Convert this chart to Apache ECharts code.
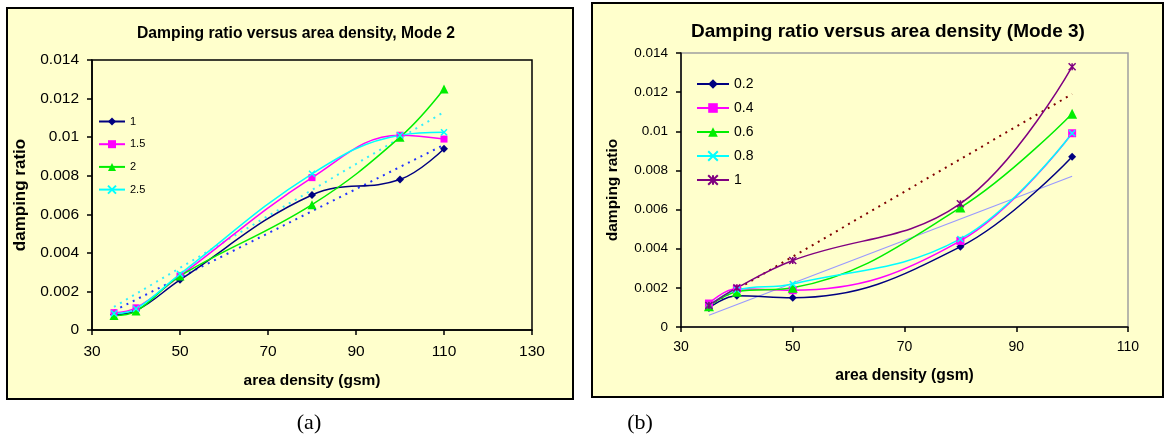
<!DOCTYPE html>
<html>
<head>
<meta charset="utf-8">
<script src="https://cdn.jsdelivr.net/npm/echarts@6/dist/echarts.min.js"></script>
<style>
html,body{margin:0;padding:0;background:#fff;width:1164px;height:441px;overflow:hidden;}
#ca{position:absolute;left:0;top:0;width:580px;height:441px;}
#cb{position:absolute;left:580px;top:0;width:584px;height:441px;}
</style>
</head>
<body>
<div id="ca"></div>
<div id="cb"></div>
<script>
// ---------- Chart (a): Mode 2 ----------
var titleA = 'Damping ratio versus area density, Mode 2';
var xA = [35, 40, 50, 80, 100, 110];
var namesA = ['1', '1.5', '2', '2.5'];
var a1  = [0.0008, 0.0010, 0.0026, 0.0070, 0.0078, 0.0094];
var a15 = [0.0009, 0.00115, 0.0028, 0.0079, 0.0101, 0.0099];
var a2  = [0.00075, 0.00098, 0.0028, 0.0065, 0.0100, 0.0125];
var a25 = [0.00086, 0.0011, 0.0029, 0.0081, 0.0101, 0.01025];
var trendAx = [35, 110];
var trendA1 = [0.0010, 0.0096];
var trendA25 = [0.0012, 0.0113];
var xTicksA = [30, 130, 20];
var yTicks = [0, 0.014, 0.002];

// ---------- Chart (b): Mode 3 ----------
var titleB = 'Damping ratio versus area density (Mode 3)';
var xB = [35, 40, 50, 80, 100];
var namesB = ['0.2', '0.4', '0.6', '0.8', '1'];
var b02 = [0.00097, 0.0016, 0.0015, 0.0041, 0.0087];
var b04 = [0.0012, 0.00195, 0.00188, 0.0044, 0.0099];
var b06 = [0.00106, 0.0018, 0.0020, 0.0061, 0.0109];
var b08 = [0.0011, 0.0019, 0.0022, 0.0045, 0.0099];
var b1  = [0.0011, 0.0020, 0.0034, 0.0063, 0.0133];
var trendBx = [35, 100];
var trendB1 = [0.0011, 0.0119];
var trendBlin = [0.0006, 0.0077];
var xTicksB = [30, 110, 20];

var captions = ['(a)', '(b)'];

var FONT = 'Liberation Sans, Arial, sans-serif';
function pairs(xs, ys) { return xs.map(function (x, i) { return [x, ys[i]]; }); }
function yFmt(v) { return v === 0 ? '0' : String(+v.toFixed(3)); }
var X_SYM = 'path://M0,0L10,10M10,0L0,10';
var STAR_SYM = 'path://M0,0L10,10M10,0L0,10M5,0L5,10';

function mkSeries(name, xs, ys, color, symbol, size, stroke) {
  var s = {
    name: name, type: 'line', data: pairs(xs, ys), smooth: 0.4,
    symbol: symbol, symbolSize: size, showSymbol: true,
    lineStyle: { color: color, width: 1.5 },
    itemStyle: { color: color },
    z: 3
  };
  if (stroke) { s.itemStyle.borderColor = color; s.itemStyle.borderWidth = 1.5; }
  return s;
}
function mkTrend(xs, ys, color, type, width) {
  return {
    name: '_t', type: 'line', data: pairs(xs, ys), symbol: 'none', silent: true,
    lineStyle: { color: color, width: width, type: type }, z: 2
  };
}

// ---- left chart ----
var chA = echarts.init(document.getElementById('ca'), null, { renderer: 'canvas' });
chA.setOption({
  animation: false,
  textStyle: { fontFamily: FONT },
  graphic: [
    { type: 'rect', z: -100, shape: { x: 7, y: 8, width: 566, height: 391 },
      style: { fill: '#FFFFCC', stroke: '#000', lineWidth: 2 } },
    { type: 'text', x: 309, y: 423, style: { text: captions[0], font: '22px "Liberation Serif", "Times New Roman", serif',
      fill: '#000', textAlign: 'center', textVerticalAlign: 'middle' } }
  ],
  title: { text: titleA, left: 291, textAlign: 'center', top: 21,
    textStyle: { fontFamily: FONT, fontSize: 15.7, fontWeight: 'bold', color: '#000' } },
  legend: {
    data: namesA, orient: 'vertical', left: 93, top: 111, itemWidth: 26, itemHeight: 10, itemGap: 11.7,
    textStyle: { fontFamily: FONT, fontSize: 11, color: '#000' }
  },
  grid: { left: 92, top: 60, width: 440, height: 270, show: true, borderColor: '#000', borderWidth: 1.5, backgroundColor: 'transparent' },
  xAxis: {
    type: 'value', min: xTicksA[0], max: xTicksA[1], interval: xTicksA[2],
    name: 'area density (gsm)', nameLocation: 'middle', nameGap: 43,
    nameTextStyle: { fontFamily: FONT, fontSize: 15.5, fontWeight: 'bold', color: '#000' },
    axisLine: { lineStyle: { color: '#000', width: 1.5 } },
    axisTick: { show: true, length: 5, lineStyle: { color: '#000', width: 1.5 } },
    axisLabel: { fontFamily: FONT, fontSize: 15.5, color: '#000', margin: 14 },
    splitLine: { show: false }
  },
  yAxis: {
    type: 'value', min: yTicks[0], max: yTicks[1], interval: yTicks[2],
    name: 'damping ratio', nameLocation: 'middle', nameRotate: 90, nameGap: 62,
    nameTextStyle: { fontFamily: FONT, fontSize: 17, fontWeight: 'bold', color: '#000' },
    axisLine: { show: true, lineStyle: { color: '#000', width: 1.5 } },
    axisTick: { show: true, length: 5, lineStyle: { color: '#000', width: 1.5 } },
    axisLabel: { fontFamily: FONT, fontSize: 15.5, color: '#000', margin: 13, formatter: yFmt },
    splitLine: { show: false }
  },
  series: [
    mkTrend(trendAx, trendA1, '#2233FF', [2, 5], 2),
    mkTrend(trendAx, trendA25, '#33EEFF', [2, 5], 2),
    mkSeries(namesA[0], xA, a1, '#000080', 'diamond', 8),
    mkSeries(namesA[1], xA, a15, '#FF00FF', 'rect', 7),
    mkSeries(namesA[2], xA, a2, '#00EE00', 'triangle', 9),
    mkSeries(namesA[3], xA, a25, '#00FFFF', X_SYM, 6, true)
  ]
});

// ---- right chart ----
var chB = echarts.init(document.getElementById('cb'), null, { renderer: 'canvas' });
chB.setOption({
  animation: false,
  textStyle: { fontFamily: FONT },
  graphic: [
    { type: 'rect', z: -100, shape: { x: 12, y: 3, width: 571, height: 394 },
      style: { fill: '#FFFFCC', stroke: '#000', lineWidth: 2 } },
    { type: 'text', x: 60, y: 423, style: { text: captions[1], font: '22px "Liberation Serif", "Times New Roman", serif',
      fill: '#000', textAlign: 'center', textVerticalAlign: 'middle' } }
  ],
  title: { text: titleB, left: 303, textAlign: 'center', top: 17,
    textStyle: { fontFamily: FONT, fontSize: 19, fontWeight: 'bold', color: '#000' } },
  legend: {
    data: namesB, orient: 'vertical', left: 111, top: 72, itemWidth: 32, itemHeight: 12, itemGap: 10,
    textStyle: { fontFamily: FONT, fontSize: 14, color: '#000' }
  },
  grid: { left: 101, top: 53, width: 447, height: 274, show: true, borderColor: '#A0A0A0', borderWidth: 1.5, backgroundColor: 'transparent' },
  xAxis: {
    type: 'value', min: xTicksB[0], max: xTicksB[1], interval: xTicksB[2],
    name: 'area density (gsm)', nameLocation: 'middle', nameGap: 41,
    nameTextStyle: { fontFamily: FONT, fontSize: 15.7, fontWeight: 'bold', color: '#000' },
    axisLine: { lineStyle: { color: '#000', width: 1.5 } },
    axisTick: { show: true, length: 5, lineStyle: { color: '#000', width: 1.5 } },
    axisLabel: { fontFamily: FONT, fontSize: 14, color: '#000', margin: 13 },
    splitLine: { show: false }
  },
  yAxis: {
    type: 'value', min: yTicks[0], max: yTicks[1], interval: yTicks[2],
    name: 'damping ratio', nameLocation: 'middle', nameRotate: 90, nameGap: 60,
    nameTextStyle: { fontFamily: FONT, fontSize: 15.5, fontWeight: 'bold', color: '#000' },
    axisLine: { show: true, lineStyle: { color: '#000', width: 1.5 } },
    axisTick: { show: true, length: 5, lineStyle: { color: '#000', width: 1.5 } },
    axisLabel: { fontFamily: FONT, fontSize: 13.5, color: '#000', margin: 13, formatter: yFmt },
    splitLine: { show: false }
  },
  series: [
    mkTrend(trendBx, trendB1, '#800000', [2, 5], 2),
    mkTrend(trendBx, trendBlin, '#9999FF', 'solid', 1.2),
    mkSeries(namesB[0], xB, b02, '#000080', 'diamond', 8),
    mkSeries(namesB[1], xB, b04, '#FF00FF', 'rect', 8),
    mkSeries(namesB[2], xB, b06, '#00EE00', 'triangle', 10),
    mkSeries(namesB[3], xB, b08, '#00FFFF', X_SYM, 6, true),
    mkSeries(namesB[4], xB, b1, '#800080', STAR_SYM, 7, true)
  ]
});
</script>
</body>
</html>
